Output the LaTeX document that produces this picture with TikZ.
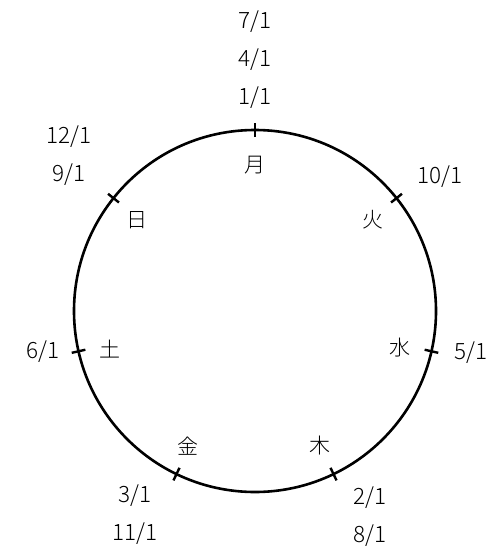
\documentclass[tikz,border=0pt]{standalone}
\usepackage{fontspec}
\setmainfont{Noto Sans CJK JP Light}

\begin{document}
\begin{tikzpicture}[
      x=1pt, y=-1pt,
      ring/.style={line width=2.6pt},
      notch/.style={line width=2.4pt},
      day/.style={font=\fontsize{21}{21}\selectfont, inner sep=0pt},
      date/.style={font=\fontsize{22.5}{38}\selectfont, align=center, inner sep=0pt}
    ]
      \useasboundingbox (0,0) rectangle (502,554);
      \coordinate (c) at (255,311);
      \draw[ring] (c) circle [radius=181pt];
      % one notch per weekday
      \foreach \a in {90, 38.57, -12.86, -64.29, -115.71, -167.14, 141.43}
        \draw[notch] ([shift={(\a:174pt)}]c) -- ([shift={(\a:188pt)}]c);
      % weekdays
      \node[day] (mon) at (255,165) {月};
      \node[day] (tue) at (373,220) {火};
      \node[day] (wed) at (400,348) {水};
      \node[day] (thu) at (320,446) {木};
      \node[day] (fri) at (188,446) {金};
      \node[day] (sat) at (110,349) {土};
      \node[day] (sun) at (137,220) {日};
      % dates
      \node[date] (onmon) at (255,60) {7/1\\4/1\\1/1};
      \node[date] (ontue) at (440,177) {10/1};
      \node[date] (onwed) at (471,353) {5/1};
      \node[date] (onthu) at (370,517) {2/1\\8/1};
      \node[date] (onfri) at (135,515) {3/1\\11/1};
      \node[date] (onsat) at (43,352) {6/1};
      \node[date] (onsun) at (69,156) {12/1\\9/1};
    \end{tikzpicture}
\end{document}
